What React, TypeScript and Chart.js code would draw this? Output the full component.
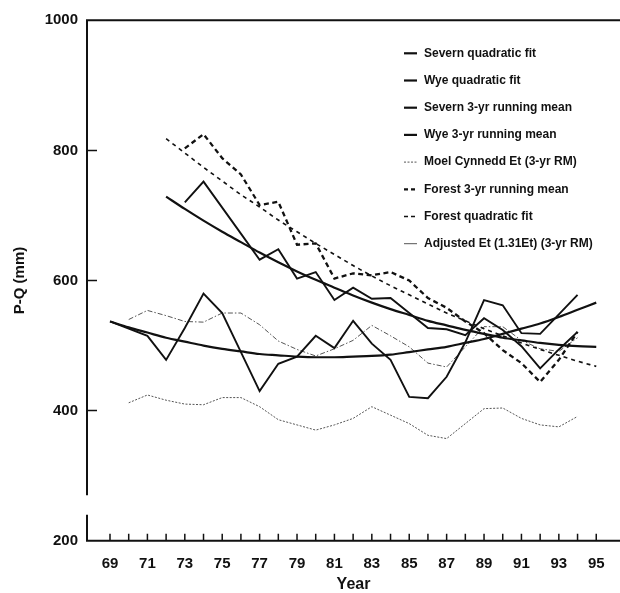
import { useEffect, useRef } from 'react';
import { Chart, registerables } from 'chart.js';

Chart.register(...registerables);

// ---- Data (years are two-digit, 19xx) ----
const seriesLabels = [
  'Severn quadratic fit',
  'Wye quadratic fit',
  'Severn 3-yr running mean',
  'Wye 3-yr running mean',
  'Moel Cynnedd Et (3-yr RM)',
  'Forest 3-yr running mean',
  'Forest quadratic fit',
  'Adjusted Et (1.31Et) (3-yr RM)',
];

// Severn quadratic fit, 72–95
const severnFitStart = 72;
const severnFit = [729, 710, 692, 675, 659, 643, 628, 614, 601, 589, 577, 566, 556, 547, 538, 531, 524, 518, 512, 508, 504, 501, 499, 498];

// Wye quadratic fit, 69–95
const wyeFitStart = 69;
const wyeFit = [537, 528, 520, 512, 506, 500, 495, 491, 487, 485, 483, 482, 482, 483, 484, 486, 490, 494, 498, 504, 510, 518, 526, 534, 544, 555, 566];

// Severn 3-yr running mean, 73–94
const severnRMStart = 73;
const severnRM = [720, 752, 712, 672, 632, 648, 603, 613, 570, 589, 572, 573, 550, 527, 525, 516, 542, 524, 499, 465, 494, 521];

// Wye 3-yr running mean, 69–94
const wyeRMStart = 69;
const wyeRM = [537, 526, 515, 478, 527, 580, 550, 490, 430, 472, 483, 515, 496, 538, 503, 478, 421, 419, 452, 505, 570, 562, 519, 518, 548, 578];

// Moel Cynnedd Et (3-yr RM), 70–94
const moelEtStart = 70;
const moelEt = [412, 424, 416, 410, 409, 420, 420, 406, 386, 378, 370, 378, 388, 406, 393, 380, 362, 357, 380, 403, 404, 388, 378, 375, 391];

// Forest 3-yr running mean, 73–94
const forestRMStart = 73;
const forestRM = [803, 825, 788, 763, 716, 721, 655, 657, 603, 611, 608, 613, 600, 573, 558, 537, 519, 493, 473, 444, 478, 521];

// Forest quadratic fit, 72–95
const forestFitStart = 72;
const forestFit = [818, 796, 774, 753, 732, 713, 693, 675, 657, 640, 623, 607, 592, 578, 564, 550, 538, 526, 515, 504, 494, 485, 476, 468];

// Adjusted Et (1.31Et) (3-yr RM), 70–94
const adjustedEtStart = 70;
const adjustedEt = [540, 554, 546, 537, 536, 550, 550, 532, 507, 494, 484, 495, 508, 531, 515, 498, 473, 467, 498, 529, 529, 508, 495, 491, 512];

// Axis ticks
const xLabelYears = [69, 71, 73, 75, 77, 79, 81, 83, 85, 87, 89, 91, 93, 95];
const xMinorFirst = 69;
const xMinorLast = 95;
const yTickValues = [200, 400, 600, 800, 1000];
const yInnerTicks = [400, 600, 800];
const yBreak = [240, 270];

const FONT = '"Liberation Sans", Arial, Helvetica, sans-serif';
const INK = '#111';

function pts(start: number, vals: number[]) {
  return vals.map((v, i) => ({ x: start + i, y: v }));
}

const legendSamples = [
  { dash: [] as number[], width: 2.2, color: INK },
  { dash: [] as number[], width: 2.2, color: INK },
  { dash: [] as number[], width: 2.2, color: INK },
  { dash: [] as number[], width: 2.2, color: INK },
  { dash: [2, 1.5], width: 1, color: '#555' },
  { dash: [4, 3], width: 2.2, color: INK },
  { dash: [4, 3], width: 1.6, color: INK },
  { dash: [] as number[], width: 1, color: '#555' },
];

const axesPlugin = {
  id: 'axesDraw',
  afterDatasetsDraw(chart: any) {
    const { ctx, chartArea, scales } = chart;
    const x = scales.x;
    const y = scales.y;
    const L = chartArea.left;
    const R = chartArea.right;
    const yTop = y.getPixelForValue(1000);
    const yBot = y.getPixelForValue(200);
    ctx.save();
    ctx.setLineDash([]);
    ctx.strokeStyle = INK;
    ctx.lineWidth = 2;
    ctx.beginPath();
    ctx.moveTo(L, y.getPixelForValue(yBreak[1]));
    ctx.lineTo(L, yTop);
    ctx.lineTo(R, yTop);
    ctx.moveTo(L, y.getPixelForValue(yBreak[0]));
    ctx.lineTo(L, yBot);
    ctx.lineTo(R, yBot);
    ctx.stroke();
    ctx.lineWidth = 1.5;
    ctx.beginPath();
    for (const v of yInnerTicks) {
      const py = y.getPixelForValue(v);
      ctx.moveTo(L, py);
      ctx.lineTo(L + 10, py);
    }
    for (let yr = xMinorFirst; yr <= xMinorLast; yr++) {
      const px = x.getPixelForValue(yr);
      ctx.moveTo(px, yBot);
      ctx.lineTo(px, yBot - 7);
    }
    ctx.stroke();
    ctx.restore();
  },
};

const legendPlugin = {
  id: 'customLegend',
  afterDraw(chart: any) {
    const { ctx, chartArea } = chart;
    const sx = chartArea.left + 317;
    const sw = 13;
    const tx = chartArea.left + 337;
    const y0 = chartArea.top + 33;
    const dy = 27.2;
    ctx.save();
    ctx.font = `bold 12px ${FONT}`;
    ctx.textBaseline = 'middle';
    ctx.textAlign = 'left';
    seriesLabels.forEach((label, i) => {
      const yy = y0 + i * dy;
      const s = legendSamples[i];
      ctx.strokeStyle = s.color;
      ctx.lineWidth = s.width;
      ctx.setLineDash(s.dash);
      ctx.beginPath();
      ctx.moveTo(sx, yy);
      ctx.lineTo(sx + sw, yy);
      ctx.stroke();
      ctx.setLineDash([]);
      ctx.fillStyle = INK;
      ctx.fillText(label, tx, yy);
    });
    ctx.restore();
  },
};

export default function App() {
  const ref = useRef<HTMLCanvasElement>(null);

  useEffect(() => {
    const canvas = ref.current;
    if (!canvas) return;
    const line = (label: string, data: any[], width: number, dash: number[], color: string, smooth: boolean) => ({
      label,
      data,
      borderColor: color,
      borderWidth: width,
      borderDash: dash,
      pointRadius: 0,
      fill: false,
      tension: 0,
      cubicInterpolationMode: smooth ? ('monotone' as const) : ('default' as const),
      spanGaps: true,
    });
    const chart = new Chart(canvas, {
      type: 'line',
      data: {
        datasets: [
          line(seriesLabels[0], pts(severnFitStart, severnFit), 2.2, [], INK, true),
          line(seriesLabels[1], pts(wyeFitStart, wyeFit), 2.2, [], INK, true),
          line(seriesLabels[2], pts(severnRMStart, severnRM), 1.9, [], INK, false),
          line(seriesLabels[3], pts(wyeRMStart, wyeRM), 1.9, [], INK, false),
          line(seriesLabels[4], pts(moelEtStart, moelEt), 1, [2, 1.5], '#555', false),
          line(seriesLabels[5], pts(forestRMStart, forestRM), 2.3, [5, 3.5], INK, false),
          line(seriesLabels[6], pts(forestFitStart, forestFit), 1.6, [4, 4], INK, true),
          line(seriesLabels[7], pts(adjustedEtStart, adjustedEt), 1, [5, 2, 1.5, 2], '#555', false),
        ],
      },
      options: {
        animation: false,
        responsive: false,
        layout: { padding: { top: 20.3, left: 0, right: 0, bottom: 0 } },
        plugins: {
          legend: { display: false },
          tooltip: { enabled: false },
        },
        scales: {
          x: {
            type: 'linear',
            min: 67.77,
            max: 96.27,
            grid: { display: false, drawTicks: false },
            border: { display: false },
            afterBuildTicks: (s: any) => {
              s.ticks = xLabelYears.map((v) => ({ value: v }));
            },
            afterFit: (s: any) => {
              s.height = 52.3;
            },
            ticks: {
              autoSkip: false,
              maxRotation: 0,
              minRotation: 0,
              padding: 14,
              color: INK,
              font: { family: FONT, size: 15, weight: 'bold' },
              callback: (v: any) => String(v),
            },
            title: {
              display: true,
              text: 'Year',
              color: INK,
              font: { family: FONT, size: 16, weight: 'bold', lineHeight: 1 },
              padding: { top: 0, bottom: 0 },
            },
          },
          y: {
            type: 'linear',
            min: 200,
            max: 1000,
            grid: { display: false, drawTicks: false },
            border: { display: false },
            afterBuildTicks: (s: any) => {
              s.ticks = yTickValues.map((v) => ({ value: v }));
            },
            afterFit: (s: any) => {
              s.width = 87;
            },
            ticks: {
              padding: 9,
              color: INK,
              font: { family: FONT, size: 15, weight: 'bold' },
              callback: (v: any) => String(v),
            },
            title: {
              display: true,
              text: 'P-Q (mm)',
              color: INK,
              font: { family: FONT, size: 15, weight: 'bold', lineHeight: 1 },
              padding: { top: 12, bottom: 0 },
            },
          },
        },
      } as any,
      plugins: [axesPlugin, legendPlugin],
    });
    return () => chart.destroy();
  }, []);

  return (
    <div style={{ position: 'absolute', left: 0, top: 0, width: 620, height: 593, background: '#fff' }}>
      <canvas ref={ref} width={620} height={593} style={{ width: 620, height: 593, display: 'block' }} />
    </div>
  );
}
